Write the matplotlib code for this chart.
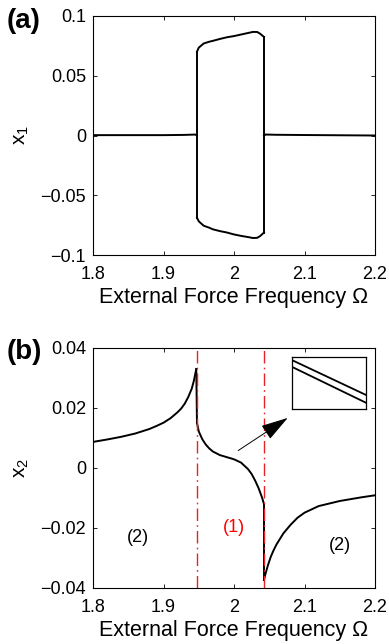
import numpy as np
import matplotlib
matplotlib.use('Agg')
from matplotlib import pyplot as plt

plt.rcParams['font.family'] = ['Liberation Sans', 'DejaVu Sans']
plt.rcParams['mathtext.fontset'] = 'custom'
plt.rcParams['mathtext.rm'] = 'Liberation Sans'
plt.rcParams['mathtext.it'] = 'Liberation Sans'

# ---- panel (a) data: x1 bifurcation loop ----
flat_left_x = [1.8, 1.85, 1.9, 1.93, 1.945, 1.9475]
flat_left_y = [0.0003, 0.0003, 0.0003, 0.0005, 0.0008, 0.0]
flat_right_x = [2.0425, 2.045, 2.06, 2.1, 2.15, 2.2]
flat_right_y = [0.0, 0.0008, 0.0006, 0.0004, 0.0002, 0.0]
loop_x = [1.9475, 1.950, 1.957, 1.965, 1.97, 1.98, 1.99, 2.0, 2.01, 2.02, 2.027, 2.033, 2.037, 2.0425]
loop_up = [0.0702, 0.0735, 0.0770, 0.0785, 0.0792, 0.0808, 0.0822, 0.0832, 0.0845, 0.0858, 0.0867, 0.0866, 0.0852, 0.0825]
loop_lo = [-0.0688, -0.0718, -0.0755, -0.0772, -0.0785, -0.0800, -0.0812, -0.0828, -0.0840, -0.0850, -0.0858, -0.0856, -0.0842, -0.0812]

# ---- panel (b) data: x2 ----
left_x = [1.8, 1.82, 1.84, 1.86, 1.88, 1.89, 1.9, 1.91, 1.92, 1.925, 1.93, 1.935, 1.94, 1.943, 1.9465]
left_y = [0.0087, 0.0095, 0.0104, 0.0115, 0.0130, 0.0140, 0.0151, 0.0166, 0.0186, 0.0198, 0.0214, 0.0236, 0.0264, 0.0290, 0.0330]
mid_x = [1.9475, 1.95, 1.955, 1.96, 1.965, 1.97, 1.98, 1.99, 2.0, 2.01, 2.02, 2.025, 2.03, 2.035, 2.04, 2.0425]
mid_y = [0.0150, 0.0122, 0.0096, 0.0078, 0.0065, 0.0055, 0.0043, 0.0036, 0.0029, 0.0018, -0.0004, -0.0020, -0.0042, -0.0068, -0.0100, -0.0120]
right_x = [2.0425, 2.043, 2.045, 2.048, 2.052, 2.056, 2.06, 2.07, 2.08, 2.09, 2.1, 2.12, 2.15, 2.18, 2.2]
right_y = [-0.0372, -0.0368, -0.0350, -0.0325, -0.0297, -0.0275, -0.0256, -0.0218, -0.0190, -0.0166, -0.0149, -0.0127, -0.0110, -0.0098, -0.0091]
jump_x = [1.9475, 2.0425]
region_labels = ['(2)', '(1)', '(2)']
region_pos = [(1.864, -0.0232), (2.0, -0.0200), (2.15, -0.0258)]
region_colors = ['black', 'red', 'black']

fig = plt.figure(figsize=(3.89, 6.44), dpi=100)

def style(ax, yt, ylab):
    ax.set_xlim(1.8, 2.2)
    ax.set_xticks([1.8, 1.9, 2.0, 2.1, 2.2])
    ax.set_xticklabels(['1.8', '1.9', '2', '2.1', '2.2'])
    ax.set_yticks(yt)
    ax.set_yticklabels(['%g' % v if v >= 0 else '\u2212%g' % -v for v in yt])
    ax.tick_params(direction='in', top=True, right=True, length=3, width=0.6,
                   labelsize=13)
    ax.tick_params(axis='x', pad=8)
    ax.tick_params(axis='y', pad=5)
    for s in ax.spines.values():
        s.set_linewidth(0.8)
    ax.set_xlabel('External Force Frequency \u03a9', fontsize=15.5, labelpad=3)
    ax.set_ylabel(ylab, fontsize=15, labelpad=7)

# panel (a)
ax1 = fig.add_axes([93 / 389, 1 - 255 / 644, 282 / 389, 239 / 644])
ax1.plot(flat_left_x, flat_left_y, color='black', lw=1.4)
ax1.plot(flat_right_x, flat_right_y, color='black', lw=1.4)
ax1.plot(loop_x, loop_up, color='black', lw=1.4)
ax1.plot(loop_x, loop_lo, color='black', lw=1.4)
ax1.plot([loop_x[0], loop_x[0]], [loop_lo[0], loop_up[0]], color='black', lw=1.4)
ax1.plot([loop_x[-1], loop_x[-1]], [loop_lo[-1], loop_up[-1]], color='black', lw=1.4)
ax1.set_ylim(-0.1, 0.1)
style(ax1, [-0.1, -0.05, 0, 0.05, 0.1], '$x_1$')
fig.text(0.018, 0.988, '(a)', fontsize=20, fontweight='bold', va='top')

# panel (b)
ax2 = fig.add_axes([93 / 389, 1 - 588 / 644, 282 / 389, 240 / 644])
ax2.plot(left_x, left_y, color='black', lw=1.4)
ax2.plot([left_x[-1], mid_x[0]], [left_y[-1], mid_y[0]], color='black', lw=1.4)
ax2.plot(mid_x, mid_y, color='black', lw=1.4)
ax2.plot(right_x, right_y, color='black', lw=1.4)
ax2.plot([mid_x[-1], right_x[0]], [mid_y[-1], right_y[0]], color='black', lw=1.4)
for xv in jump_x:
    ax2.axvline(xv, color='#e8202a', lw=1.0, dashes=(9, 3, 1.2, 3))
for lab, (px, py), c in zip(region_labels, region_pos, region_colors):
    ax2.text(px, py, lab, color=c, fontsize=13, ha='center', va='center')
ax2.annotate('', xy=(2.0795, 0.0172), xytext=(2.0026, 0.0053),
             arrowprops=dict(arrowstyle='-|>,head_length=0.95,head_width=0.28',
                             color='black', lw=0.7, mutation_scale=18))
ax2.set_ylim(-0.04, 0.04)
style(ax2, [-0.04, -0.02, 0, 0.02, 0.04], '$x_2$')
fig.text(0.018, 0.474, '(b)', fontsize=20, fontweight='bold', va='top')

# zoom inset
ins = fig.add_axes([292 / 389, 1 - 409 / 644, 74 / 389, 52 / 644])
ins.plot([0, 1], [0.94, 0.27], color='black', lw=1.3)
ins.plot([0, 1], [0.81, 0.12], color='black', lw=1.3)
ins.set_xlim(0, 1)
ins.set_ylim(0, 1)
ins.set_xticks([])
ins.set_yticks([])
for s in ins.spines.values():
    s.set_linewidth(0.9)

fig.savefig('out.png', dpi=100)
